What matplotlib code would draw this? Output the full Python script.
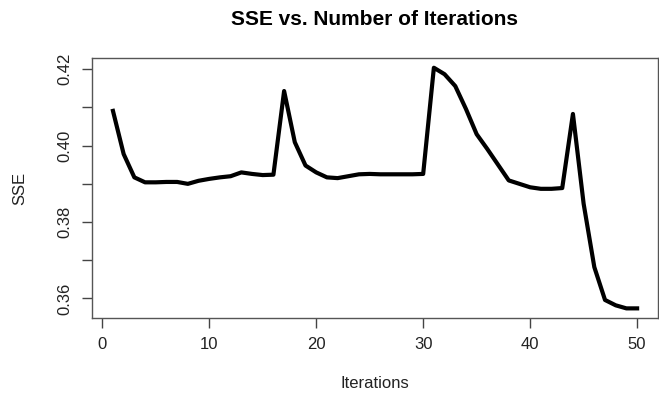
import matplotlib
matplotlib.use("Agg")
import matplotlib.pyplot as plt
import numpy as np

# SSE recorded at each training iteration
iterations = np.arange(1, 51)
sse = [
    0.4091, 0.3978, 0.3917, 0.3904, 0.3904, 0.3905, 0.3905, 0.3900, 0.3908, 0.3913,
    0.3917, 0.3920, 0.3930, 0.3926, 0.3923, 0.3924, 0.4143, 0.4009, 0.3948, 0.3930,
    0.3917, 0.3915, 0.3920, 0.3925, 0.3926, 0.3925, 0.3925, 0.3925, 0.3925, 0.3926,
    0.4204, 0.4187, 0.4156, 0.4096, 0.4030, 0.3991, 0.3950, 0.3909, 0.3900, 0.3891,
    0.3887, 0.3887, 0.3889, 0.4083, 0.3848, 0.3682, 0.3596, 0.3582, 0.3574, 0.3574,
]
x_ticks = [0, 10, 20, 30, 40, 50]
y_ticks = [0.36, 0.37, 0.38, 0.39, 0.40, 0.41, 0.42]
y_tick_labels = ["0.36", "", "0.38", "", "0.40", "", "0.42"]

plt.rcParams["font.family"] = ["Liberation Sans", "DejaVu Sans"]

fig = plt.figure(figsize=(6.59, 3.98), dpi=100)
ax = fig.add_axes([0.1396, 0.201, 0.859, 0.653])

ax.plot(iterations, sse, color="black", linewidth=3.0, solid_joinstyle="round")

# R-style 4% padding around the data range
x_pad = (iterations.max() - iterations.min()) * 0.04
y_pad = (max(sse) - min(sse)) * 0.04
ax.set_xlim(iterations.min() - x_pad, iterations.max() + x_pad)
ax.set_ylim(min(sse) - y_pad, max(sse) + y_pad)

ax.set_xticks(x_ticks)
ax.set_yticks(y_ticks)
ax.set_yticklabels(y_tick_labels, rotation=90, va="center")
ax.tick_params(direction="out", length=7, width=1, colors="#444444",
               labelcolor="#222222", labelsize=12, pad=7)

for spine in ax.spines.values():
    spine.set_color("#555555")
    spine.set_linewidth(1)

ax.set_xlabel("Iterations", fontsize=12, color="#222222", va="center")
ax.set_ylabel("SSE", fontsize=12, color="#222222", va="center")
ax.xaxis.set_label_coords(0.5, -0.253)
ax.yaxis.set_label_coords(-0.127, 0.5)
fig.suptitle("SSE vs. Number of Iterations", fontsize=15, fontweight="bold",
             x=0.569, y=0.95, va="center")

fig.savefig("out.png", dpi=100)
